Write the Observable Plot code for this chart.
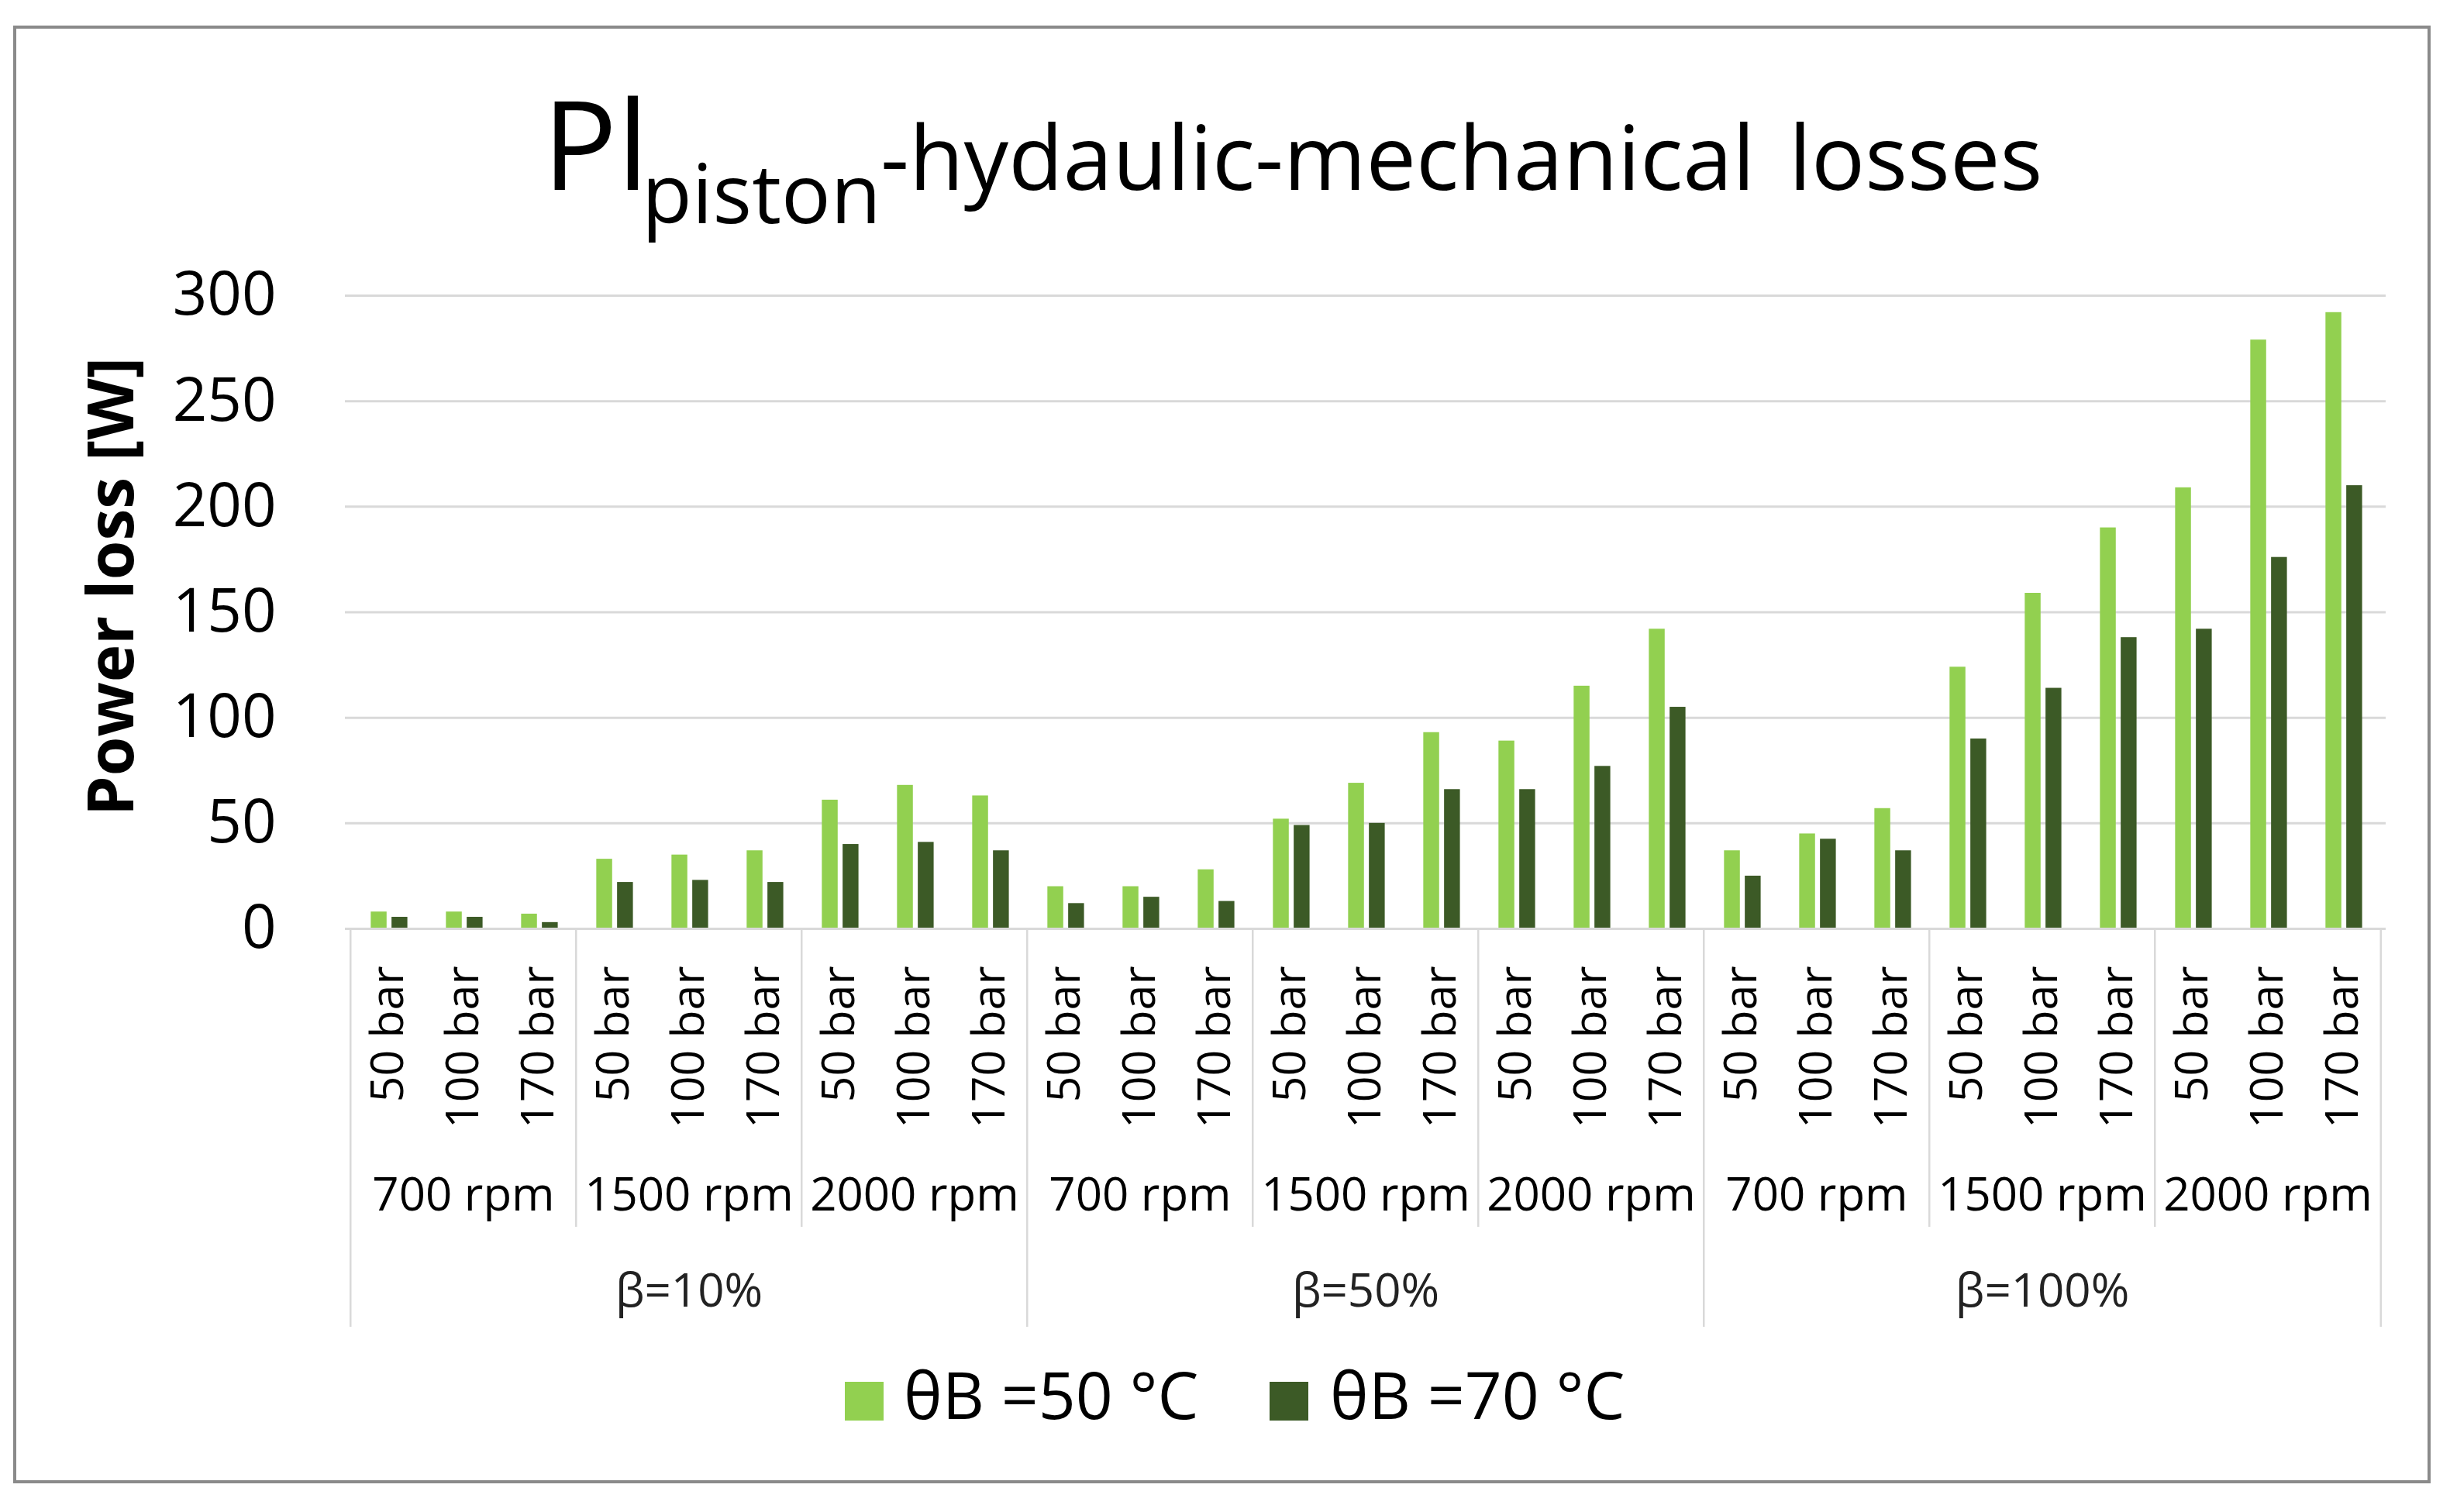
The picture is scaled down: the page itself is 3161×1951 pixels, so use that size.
<!DOCTYPE html>
<html>
<head>
<meta charset="utf-8">
<script src="https://cdn.jsdelivr.net/npm/d3@7"></script>
<script src="https://cdn.jsdelivr.net/npm/@observablehq/plot@0.6"></script>
<style>
  html, body { margin: 0; padding: 0; background: #fff; }
  body { width: 3161px; height: 1951px; position: relative; overflow: hidden; font-family: "Open Sans", sans-serif; color: #000; }
  #frame { position: absolute; left: 17px; top: 33px; width: 3111px; height: 1873px; border: 4px solid #8a8a8a; }
  .t { position: absolute; line-height: 1; white-space: nowrap; font-family: "Open Sans", sans-serif; }
  .sw { position: absolute; width: 50px; height: 50px; }
  #chart { position: absolute; left: 0; top: 340px; }
</style>
</head>
<body>
<div id="frame"></div>
<span class="t" style="left:700px; top:103px; font-size:160px;">Pl</span>
<span class="t" style="left:828px; top:194px; font-size:106px;">piston</span>
<span class="t" style="left:1136px; top:143px; font-size:115px; word-spacing:14px;">-hydaulic-mechanical losses</span>
<div id="chart"></div>
<div class="sw" style="left:1090px; top:1783px; background:#92d050;"></div>
<span class="t" style="left:1166px; top:1757px; font-size:84px;">θB =50 °C</span>
<div class="sw" style="left:1638px; top:1783px; background:#3c5a26;"></div>
<span class="t" style="left:1716px; top:1757px; font-size:84px;">θB =70 °C</span>
<script>
const betaGroups = ["β=10%", "β=50%", "β=100%"];
const rpmGroups = ["700 rpm", "1500 rpm", "2000 rpm"];
const pressures = ["50 bar", "100 bar", "170 bar"];
const seriesNames = ["θB =50 °C", "θB =70 °C"];
const theta50 = [8, 8, 7, 33, 35, 37, 61, 68, 63,
                 20, 20, 28, 52, 69, 93, 89, 115, 142,
                 37, 45, 57, 124, 159, 190, 209, 279, 292];
const theta70 = [5.5, 5.5, 3, 22, 23, 22, 40, 41, 37,
                 12, 15, 13, 49, 50, 66, 66, 77, 105,
                 25, 42.5, 37, 90, 114, 138, 142, 176, 210];
const yTicks = [0, 50, 100, 150, 200, 250, 300];

const rows = [];
betaGroups.forEach(b => rpmGroups.forEach(r => pressures.forEach(p => {
  const i = rows.length;
  rows.push({key: `${b}|${r}|${p}`, beta: b, rpm: r, pressure: p, v50: theta50[i], v70: theta70[i]});
})));
const keys = rows.map(d => d.key);

const W = 3161, H = 1410, ML = 445, MR = 83, MT = 41, MB = 552;
const bw = (W - ML - MR) / keys.length;
const frameH = H - MT - MB;

const rpmCells = [];
betaGroups.forEach(b => rpmGroups.forEach(r => rpmCells.push({beta: b, rpm: r,
  first: `${b}|${r}|${pressures[0]}`, mid: `${b}|${r}|${pressures[1]}`})));
const betaCells = betaGroups.map(b => ({beta: b, first: `${b}|${rpmGroups[0]}|${pressures[0]}`,
  mid: `${b}|${rpmGroups[1]}|${pressures[1]}`}));
const rpmInner = rpmCells.filter(d => d.rpm !== rpmGroups[0]);
const lastKey = keys[keys.length - 1];

const grey = "#d9d9d9";
const light = "#92d050", dark = "#3c5a26";

const chart = Plot.plot({
  width: W, height: H,
  marginLeft: ML, marginRight: MR, marginTop: MT, marginBottom: MB,
  style: {fontFamily: "Open Sans, sans-serif", fontSize: "60px", color: "#000", background: "transparent", overflow: "visible"},
  x: {type: "band", domain: keys, padding: 0, axis: null},
  y: {domain: [0, 300], axis: null},
  marks: [
    Plot.gridY(yTicks, {stroke: grey, strokeOpacity: 1, strokeWidth: 3}),
    Plot.axisY(yTicks, {tickSize: 0, tickPadding: 89, fontSize: 78, label: null}),
    Plot.text(["Power loss [W]"], {frameAnchor: "left", textAnchor: "middle", lineAnchor: "middle",
      dx: -300, dy: -33, rotate: -90, fontSize: 82, fontWeight: "bold"}),
    Plot.barY(rows, {x: "key", y: "v50", fill: light, insetLeft: bw * 0.27, insetRight: bw * 0.515}),
    Plot.barY(rows, {x: "key", y: "v70", fill: dark, insetLeft: bw * 0.545, insetRight: bw * 0.24}),
    Plot.ruleY([0], {stroke: grey, strokeWidth: 3}),
    Plot.ruleX(rpmInner, {x: "first", dx: -bw / 2, stroke: grey, strokeWidth: 2.5,
      insetTop: frameH, insetBottom: -385}),
    Plot.ruleX(betaCells, {x: "first", dx: -bw / 2, stroke: grey, strokeWidth: 2.5,
      insetTop: frameH, insetBottom: -514}),
    Plot.ruleX([lastKey], {dx: bw / 2, stroke: grey, strokeWidth: 2.5,
      insetTop: frameH, insetBottom: -514}),
    Plot.text(rows, {x: "key", text: "pressure", frameAnchor: "bottom", dy: 48, rotate: -90,
      textAnchor: "end", lineAnchor: "middle", fontSize: 59}),
    Plot.text(rpmCells, {x: "mid", text: "rpm", frameAnchor: "bottom", lineAnchor: "middle", dy: 344, fontSize: 60}),
    Plot.text(betaCells, {x: "mid", text: "beta", frameAnchor: "bottom", lineAnchor: "middle", dy: 468, fontSize: 60, fill: "#222"})
  ]
});
document.getElementById("chart").appendChild(chart);
</script>
</body>
</html>
